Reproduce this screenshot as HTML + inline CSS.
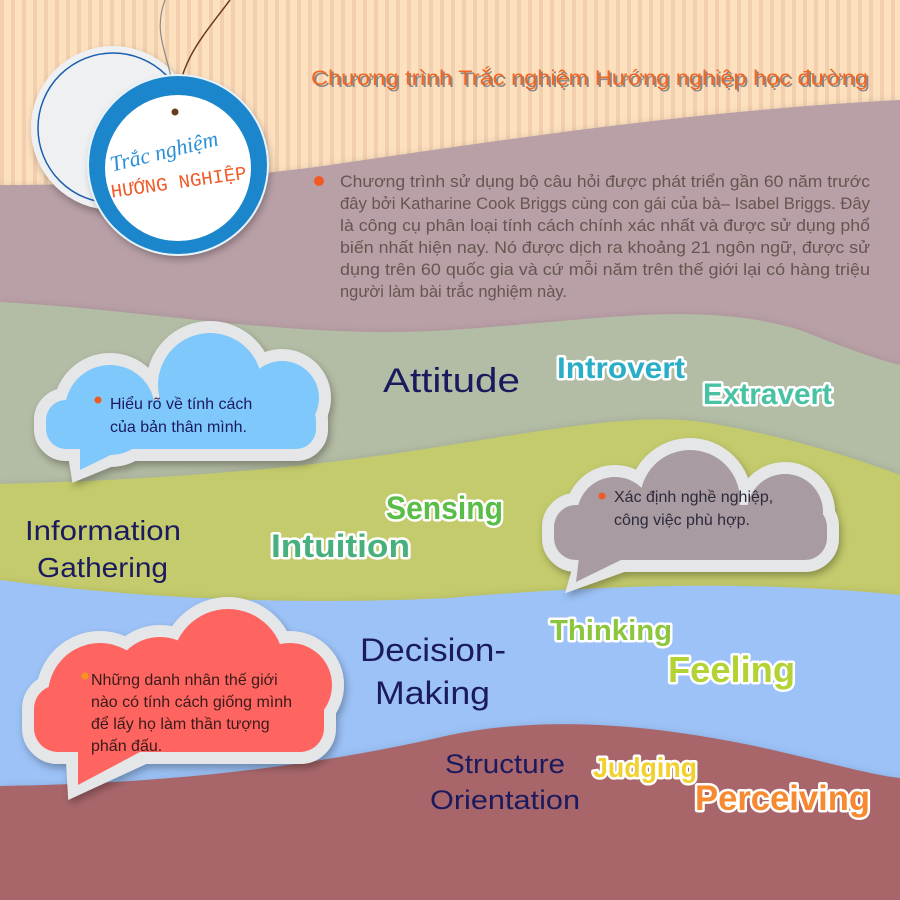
<!DOCTYPE html>
<html><head><meta charset="utf-8"><style>
html,body{margin:0;padding:0;background:#fff}
svg{display:block}
.lbl{font-family:"Liberation Sans",sans-serif;fill:#1b1a5e}
.col{font-family:"Liberation Sans",sans-serif;font-weight:bold;stroke:#fff;stroke-width:5;paint-order:stroke;stroke-linejoin:round}
.ct{font-family:"Liberation Sans","Noto Sans CJK SC",sans-serif;font-size:16px}
.pt{font-family:"Liberation Sans","Noto Sans CJK SC",sans-serif;font-size:16.5px}
</style></head><body>
<svg width="900" height="900" viewBox="0 0 900 900" xmlns="http://www.w3.org/2000/svg">
<defs>
<pattern id="st" width="11" height="20" patternUnits="userSpaceOnUse">
<rect width="11" height="20" fill="#fde1bf"/><rect x="0" width="4" height="20" fill="#f2cfae"/>
</pattern>
<filter id="sh" x="-10%" y="-10%" width="120%" height="130%"><feDropShadow dx="0" dy="6" stdDeviation="6" flood-color="#000" flood-opacity="0.35"/></filter>
<filter id="sh2" x="-20%" y="-20%" width="140%" height="140%"><feDropShadow dx="2" dy="4" stdDeviation="4" flood-color="#000" flood-opacity="0.3"/></filter>
</defs>
<rect width="900" height="900" fill="url(#st)"/>
<path filter="url(#sh)" d="M0,185 C120,185 240,178 330,165 C500,140 700,110 900,100 L900,900 L0,900Z" fill="#b9a0a7"/>
<path filter="url(#sh)" d="M0,302 C150,310 300,340 450,330 C600,320 700,300 800,330 C850,350 880,360 900,365 L900,900 L0,900Z" fill="#b3bca4"/>
<path filter="url(#sh)" d="M0,484 C150,480 300,470 450,445 C560,428 650,410 720,425 C800,440 860,460 900,475 L900,900 L0,900Z" fill="#c4cb6c"/>
<path filter="url(#sh)" d="M0,580 C150,600 300,605 450,598 C600,585 750,580 900,595 L900,900 L0,900Z" fill="#9cc2f7"/>
<path filter="url(#sh)" d="M0,786 C150,784 300,770 450,735 C550,715 650,725 750,745 C820,760 870,775 900,778 L900,900 L0,900Z" fill="#a8666b"/>

<circle cx="113" cy="128" r="82" fill="#eef0f2" filter="url(#sh2)"/>
<circle cx="113" cy="128" r="75" fill="none" stroke="#1b5fae" stroke-width="1.5"/>
<path d="M165,0 C150,40 175,60 175,112" stroke="#8a8a8a" stroke-width="1.2" fill="none"/>
<path d="M230,0 C200,40 180,60 175,112" stroke="#6a3b1e" stroke-width="1.5" fill="none"/>
<circle cx="178" cy="165" r="90" fill="#1a86cc" filter="url(#sh2)"/>
<circle cx="178" cy="165" r="90" fill="none" stroke="#e8f2fa" stroke-width="2"/>
<circle cx="178" cy="168" r="73" fill="#fff"/>
<circle cx="175" cy="112" r="3.5" fill="#6a3b1e"/>
<text x="108" y="162" transform="rotate(-14 150 150)" font-family="Liberation Serif,serif" font-style="italic" font-size="22" fill="#2a8fd8">Trắc nghiệm</text>
<text x="110" y="188" transform="rotate(-8 180 180)" font-family="Liberation Mono,monospace" font-size="19" fill="#f05a28">HƯỚNG NGHIỆP</text>

<text x="313" y="87" font-family="Liberation Sans,sans-serif" font-size="21" fill="#888" textLength="557" lengthAdjust="spacingAndGlyphs">Chương trình Trắc nghiệm Hướng nghiệp học đường</text>
<text x="311" y="85" font-family="Liberation Sans,sans-serif" font-size="21" fill="#f26522" textLength="557" lengthAdjust="spacingAndGlyphs">Chương trình Trắc nghiệm Hướng nghiệp học đường</text>
<circle cx="319" cy="181" r="5" fill="#f15a24"/>
<g class="pt" fill="#665650">
<text x="340" y="187" textLength="530" lengthAdjust="spacingAndGlyphs">Chương trình sử dụng bộ câu hỏi được phát triển gần 60 năm trước</text>
<text x="340" y="209" textLength="530" lengthAdjust="spacingAndGlyphs">đây bởi Katharine Cook Briggs cùng con gái của bà– Isabel Briggs. Đây</text>
<text x="340" y="231" textLength="530" lengthAdjust="spacingAndGlyphs">là công cụ phân loại tính cách chính xác nhất và được sử dụng phổ</text>
<text x="340" y="253" textLength="530" lengthAdjust="spacingAndGlyphs">biến nhất hiện nay. Nó được dịch ra khoảng 21 ngôn ngữ, được sử</text>
<text x="340" y="275" textLength="530" lengthAdjust="spacingAndGlyphs">dụng trên 60 quốc gia và cứ mỗi năm trên thế giới lại có hàng triệu</text>
<text x="340" y="297">người làm bài trắc nghiệm này.</text>
</g>

<!-- cloud 1 -->
<g filter="url(#sh2)">
<g fill="#e4e6e8" stroke="#e4e6e8" stroke-width="24" stroke-linejoin="round">
<circle cx="110" cy="410" r="45"/><circle cx="210" cy="385" r="52"/><circle cx="282" cy="398" r="37"/>
<rect x="46" y="400" width="270" height="49" rx="20"/></g>
<path d="M70,455 L135,455 L74,480Z" fill="#e4e6e8" stroke="#e4e6e8" stroke-width="4"/>
</g>
<g fill="#7ec8fb">
<circle cx="110" cy="410" r="45"/><circle cx="210" cy="385" r="52"/><circle cx="282" cy="398" r="37"/>
<rect x="46" y="400" width="270" height="49" rx="20"/><path d="M80,440 L125,448 L80,470Z"/>
</g>
<circle cx="98" cy="400" r="3.5" fill="#f15a24"/>
<text class="ct" x="110" y="409" fill="#1b1a5e">Hiểu rõ về tính cách</text>
<text class="ct" x="110" y="432" fill="#1b1a5e">của bản thân mình.</text>

<!-- cloud 2 -->
<g filter="url(#sh2)">
<g fill="#e4e6e8" stroke="#e4e6e8" stroke-width="24" stroke-linejoin="round">
<circle cx="615" cy="515" r="38"/><circle cx="690" cy="500" r="50"/><circle cx="785" cy="512" r="38"/>
<rect x="554" y="505" width="273" height="55" rx="22"/></g>
<path d="M575,566 L635,566 L568,590Z" fill="#e4e6e8" stroke="#e4e6e8" stroke-width="4"/>
</g>
<g fill="#a89ba2">
<circle cx="615" cy="515" r="38"/><circle cx="690" cy="500" r="50"/><circle cx="785" cy="512" r="38"/>
<rect x="554" y="505" width="273" height="55" rx="22"/><path d="M580,550 L625,558 L576,582Z"/>
</g>
<circle cx="602" cy="496" r="3.5" fill="#f15a24"/>
<text class="ct" x="614" y="502" fill="#2d2a3a">Xác định nghề nghiệp,</text>
<text class="ct" x="614" y="525" fill="#2d2a3a">công việc phù hợp.</text>

<!-- cloud 3 -->
<g filter="url(#sh2)">
<g fill="#e4e6e8" stroke="#e4e6e8" stroke-width="24" stroke-linejoin="round">
<circle cx="100" cy="695" r="52"/><circle cx="228" cy="665" r="56"/><circle cx="290" cy="685" r="42"/>
<circle cx="160" cy="685" r="48"/>
<rect x="34" y="685" width="290" height="67" rx="24"/></g>
<path d="M68,760 L150,760 L70,797Z" fill="#e4e6e8" stroke="#e4e6e8" stroke-width="4"/>
</g>
<g fill="#fe6560">
<circle cx="100" cy="695" r="52"/><circle cx="228" cy="665" r="56"/><circle cx="290" cy="685" r="42"/>
<circle cx="160" cy="685" r="48"/>
<rect x="34" y="685" width="290" height="67" rx="24"/><path d="M78,745 L140,752 L78,785Z"/>
</g>
<circle cx="85" cy="676" r="3.5" fill="#f7941d"/>
<g class="ct" fill="#3a1a1a">
<text x="91" y="685">Những danh nhân thế giới</text>
<text x="91" y="707">nào có tính cách giống mình</text>
<text x="91" y="729">để lấy họ làm thần tượng</text>
<text x="91" y="751">phấn đấu.</text>
</g>

<text class="lbl" x="383" y="392" font-size="34" textLength="137" lengthAdjust="spacingAndGlyphs">Attitude</text>
<text class="lbl" x="25" y="540" font-size="28" textLength="156" lengthAdjust="spacingAndGlyphs">Information</text>
<text class="lbl" x="37" y="577" font-size="28" textLength="131" lengthAdjust="spacingAndGlyphs">Gathering</text>
<text class="lbl" x="360" y="661" font-size="32" textLength="146" lengthAdjust="spacingAndGlyphs">Decision-</text>
<text class="lbl" x="375" y="704" font-size="32" textLength="115" lengthAdjust="spacingAndGlyphs">Making</text>
<text class="lbl" x="445" y="773" font-size="27" textLength="120" lengthAdjust="spacingAndGlyphs">Structure</text>
<text class="lbl" x="430" y="809" font-size="27" textLength="150" lengthAdjust="spacingAndGlyphs">Orientation</text>

<text class="col" x="557" y="378" font-size="30" fill="#2aaec7" textLength="128" lengthAdjust="spacingAndGlyphs">Introvert</text>
<text class="col" x="703" y="404" font-size="30" fill="#48c2a3" textLength="129" lengthAdjust="spacingAndGlyphs">Extravert</text>
<text class="col" x="386" y="519" font-size="32" fill="#59bd48" textLength="117" lengthAdjust="spacingAndGlyphs">Sensing</text>
<text class="col" x="271" y="557" font-size="32" fill="#48b07e" textLength="139" lengthAdjust="spacingAndGlyphs">Intuition</text>
<text class="col" x="550" y="640" font-size="29" fill="#8cc63e" textLength="122" lengthAdjust="spacingAndGlyphs">Thinking</text>
<text class="col" x="668" y="682" font-size="36" fill="#b3d334" textLength="127" lengthAdjust="spacingAndGlyphs">Feeling</text>
<text class="col" x="593" y="777" font-size="28" fill="#f1d12e" textLength="104" lengthAdjust="spacingAndGlyphs">Judging</text>
<text class="col" x="695" y="810" font-size="35" fill="#f68a31" textLength="175" lengthAdjust="spacingAndGlyphs">Perceiving</text>
</svg>
</body></html>
